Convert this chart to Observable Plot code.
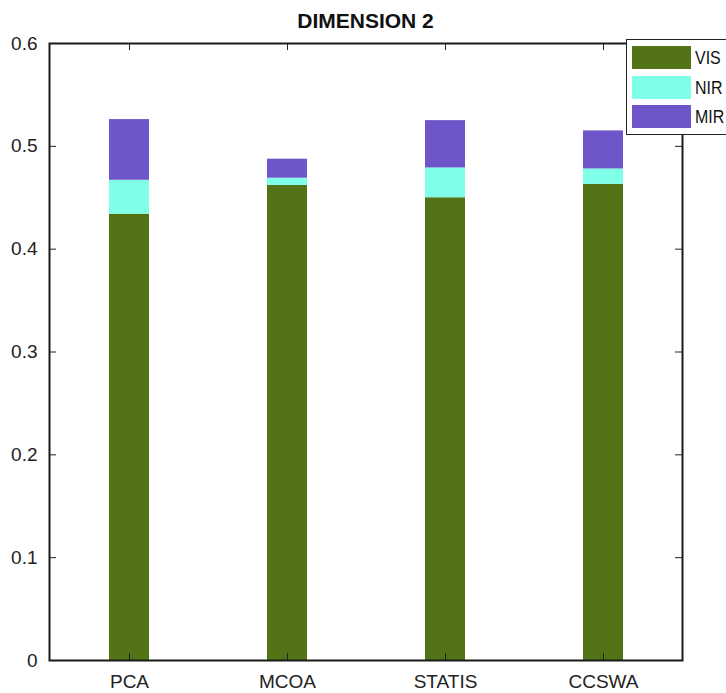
<!DOCTYPE html>
<html>
<head>
<meta charset="utf-8">
<script src="https://cdn.jsdelivr.net/npm/d3@7"></script>
<script src="https://cdn.jsdelivr.net/npm/@observablehq/plot@0.6"></script>
<style>
  html, body { margin: 0; padding: 0; background: #fff; width: 726px; height: 693px; overflow: hidden; }
  body { position: relative; font-family: "Liberation Sans", Arial, Helvetica, sans-serif; }
  #title { height: 30px; line-height: 30px; padding-top: 6px; box-sizing: border-box; text-align: center; padding-left: 5px; font-weight: bold; font-size: 21px; color: #111; }
  #legend { position: absolute; left: 626px; top: 39px; width: 120px; height: 96px; border: 1.5px solid #222; background: #fff; box-sizing: border-box; }
  .row { position: absolute; left: 5px; height: 23px; }
  .sw { position: absolute; left: 0; top: 0; width: 59px; height: 23px; }
  .lab { position: absolute; left: 63px; top: 0; line-height: 23px; font-size: 19px; color: #111; transform: scaleX(0.84); transform-origin: left center; white-space: nowrap; }
</style>
</head>
<body>
<div id="title">DIMENSION 2</div>
<div id="chart"></div>
<div id="legend"></div>
<script>
const categories = ["PCA", "MCOA", "STATIS", "CCSWA"];
const seriesNames = ["VIS", "NIR", "MIR"];
const vis = [0.434, 0.462, 0.450, 0.463];
const nir = [0.033, 0.007, 0.029, 0.015];
const mir = [0.059, 0.0185, 0.046, 0.037];
const colors = ["#527316", "#7fffe8", "#6e56ca"];
const yTicks = [0, 0.1, 0.2, 0.3, 0.4, 0.5, 0.6];

const seriesValues = [vis, nir, mir];
const table = [];
seriesNames.forEach((s, j) => {
  categories.forEach((c, i) => table.push({category: c, band: s, value: seriesValues[j][i]}));
});

const W = 726, H = 663;
const mL = 49, mR = 44, mT = 13, mB = 33;
const pw = W - mL - mR, ph = H - mT - mB;
const tl = 7;

const plot = Plot.plot({
  width: W,
  height: H,
  marginLeft: mL, marginRight: mR, marginTop: mT, marginBottom: mB,
  style: {fontFamily: '"Liberation Sans", Arial, Helvetica, sans-serif', fontSize: "19px", color: "#222", background: "#fff"},
  x: {domain: categories, paddingInner: 0.75, paddingOuter: 0.375, label: null},
  y: {domain: [0, 0.6], label: null},
  color: {domain: seriesNames, range: colors},
  marks: [
    Plot.barY(table, {x: "category", y: "value", fill: "band", order: seriesNames}),
    Plot.tickY(yTicks, {y: d => d, insetRight: pw - tl, stroke: "#222", strokeWidth: 1}),
    Plot.tickY(yTicks, {y: d => d, insetLeft: pw - tl, stroke: "#222", strokeWidth: 1}),
    Plot.tickX(categories, {x: d => d, insetTop: ph - tl, stroke: "#222", strokeWidth: 1}),
    Plot.tickX(categories, {x: d => d, insetBottom: ph - tl, stroke: "#222", strokeWidth: 1}),
    Plot.frame({stroke: "#1a1a1a", strokeWidth: 2}),
    Plot.axisY(yTicks, {tickSize: 0, tickPadding: 12, tickFormat: d => d === 0 ? "0" : d.toFixed(1), fill: "#222"}),
    Plot.axisX({tickSize: 0, tickPadding: 14, fill: "#222"})
  ]
});
document.getElementById("chart").appendChild(plot);

const legend = document.getElementById("legend");
const rowTops = [6, 36, 65];
seriesNames.forEach((s, j) => {
  const row = document.createElement("div");
  row.className = "row";
  row.style.top = rowTops[j] + "px";
  row.innerHTML = `<div class="sw" style="background:${colors[j]}"></div><div class="lab">${s}</div>`;
  legend.appendChild(row);
});
</script>
</body>
</html>
